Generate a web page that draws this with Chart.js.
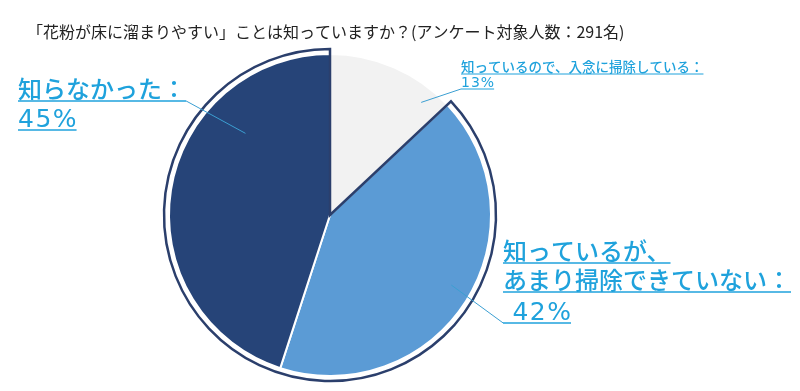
<!DOCTYPE html>
<html lang="ja">
<head>
<meta charset="utf-8">
<script src="https://cdn.jsdelivr.net/npm/chart.js@4.4.1/dist/chart.umd.min.js"></script>
<style>
    html, body { margin: 0; padding: 0; background: #fff; }
    #wrap { width: 800px; height: 391px; position: relative; }
</style>
</head>
<body>
<div id="wrap"><canvas id="pie" width="800" height="391"></canvas></div>
<script>
const title = "「花粉が床に溜まりやすい」ことは知っていますか？(アンケート対象人数：291名)";
const categories = ["知っているので、入念に掃除している", "知っているが、あまり掃除できていない", "知らなかった"];
const categoryLines = [
    ["知っているので、入念に掃除している："],
    ["知っているが、", "あまり掃除できていない："],
    ["知らなかった："]
];
const shares = [13, 42, 45];
const sliceColors = ["#f2f2f2", "#5b9bd5", "#264478"];

const outlineColor = "#2b3f6c";
const labelColor = "#1fa2dc";
const jpFont = "'Noto Sans CJK JP', 'Noto Sans', sans-serif";
const labelFont = "'DejaVu Sans', 'Noto Sans CJK JP', sans-serif";

// label layout: x, baselines, font size, leader anchor inside slice (angle from top, fraction of radius)
const labelLayout = [
    { x: 461, ys: [72, 87], size: 13.5, pctSize: 14, lineFrom: "start", lineIdx: 1, angle: 39, frac: 0.9, indent: "", pctSpacing: 1 },
    { x: 503, ys: [260, 289, 320], size: 24, pctSize: 25, lineFrom: "start", lineIdx: 2, angle: 120, frac: 0.87, indent: " ", pctSpacing: 1.5 },
    { x: 18, ys: [98, 127], size: 24, pctSize: 25, lineFrom: "end", lineIdx: 0, angle: 314, frac: 0.73, indent: "", pctSpacing: 1.5 }
];

const titlePlugin = {
    id: "titleText",
    afterDraw(chart) {
        const ctx = chart.ctx;
        ctx.save();
        ctx.font = "16px " + jpFont;
        ctx.fillStyle = "#222";
        ctx.textBaseline = "alphabetic";
        ctx.fillText(title, 27, 38);
        ctx.restore();
    }
};

const outlinePlugin = {
    id: "sliceOutline",
    afterDatasetsDraw(chart) {
        const arcs = chart.getDatasetMeta(0).data;
        const a = arcs[1], b = arcs[2];
        const r = a.outerRadius + 5;
        const ctx = chart.ctx;
        ctx.save();
        ctx.beginPath();
        ctx.moveTo(a.x, a.y);
        ctx.lineTo(a.x + r * Math.cos(a.startAngle), a.y + r * Math.sin(a.startAngle));
        ctx.arc(a.x, a.y, r, a.startAngle, b.endAngle);
        ctx.closePath();
        ctx.strokeStyle = outlineColor;
        ctx.lineWidth = 2.5;
        ctx.lineJoin = "miter";
        ctx.stroke();
        ctx.restore();
    }
};

const labelPlugin = {
    id: "sliceLabels",
    afterDraw(chart) {
        const ctx = chart.ctx;
        const arcs = chart.getDatasetMeta(0).data;
        ctx.save();
        labelLayout.forEach((lay, i) => {
            const lines = categoryLines[i].concat([lay.indent + shares[i] + "%"]);
            ctx.fillStyle = labelColor;
            ctx.strokeStyle = labelColor;
            const ends = [];
            lines.forEach((txt, j) => {
                const y = lay.ys[j];
                const isPct = j === lines.length - 1;
                ctx.font = "500 " + (isPct ? lay.pctSize : lay.size) + "px " + labelFont;
                ctx.letterSpacing = isPct ? lay.pctSpacing + "px" : "0px";
                ctx.fillText(txt, lay.x, y);
                const w = ctx.measureText(txt).width - (isPct ? lay.pctSpacing : 0);
                const uy = y + Math.max(2, lay.size * 0.12);
                ctx.lineWidth = lay.size > 20 ? 1.5 : 1;
                ctx.beginPath();
                ctx.moveTo(lay.x, uy);
                ctx.lineTo(lay.x + w, uy);
                ctx.stroke();
                ends.push({ start: lay.x, end: lay.x + w, y: uy });
            });
            ctx.letterSpacing = "0px";
            // leader line
            const arc = arcs[i];
            const ang = (lay.angle - 90) * Math.PI / 180;
            const px = arc.x + Math.cos(ang) * arc.outerRadius * lay.frac;
            const py = arc.y + Math.sin(ang) * arc.outerRadius * lay.frac;
            const e = ends[lay.lineIdx];
            ctx.strokeStyle = "#3b9fd2";
            ctx.lineWidth = 1;
            ctx.beginPath();
            ctx.moveTo(lay.lineFrom === "start" ? e.start : e.end, e.y);
            ctx.lineTo(px, py);
            ctx.stroke();
        });
        ctx.restore();
    }
};

new Chart(document.getElementById("pie").getContext("2d"), {
    type: "pie",
    data: {
        labels: categories,
        datasets: [{
            data: shares,
            backgroundColor: sliceColors,
            borderColor: "#ffffff",
            borderWidth: 2,
            hoverBorderWidth: 2,
            hoverOffset: 0
        }]
    },
    options: {
        responsive: false,
        animation: false,
        devicePixelRatio: 1,
        radius: 161,
        layout: { padding: { left: 0, right: 140, top: 39, bottom: 0 } },
        plugins: {
            legend: { display: false },
            tooltip: { enabled: false },
            title: { display: false }
        }
    },
    plugins: [titlePlugin, outlinePlugin, labelPlugin]
});
</script>
</body>
</html>
